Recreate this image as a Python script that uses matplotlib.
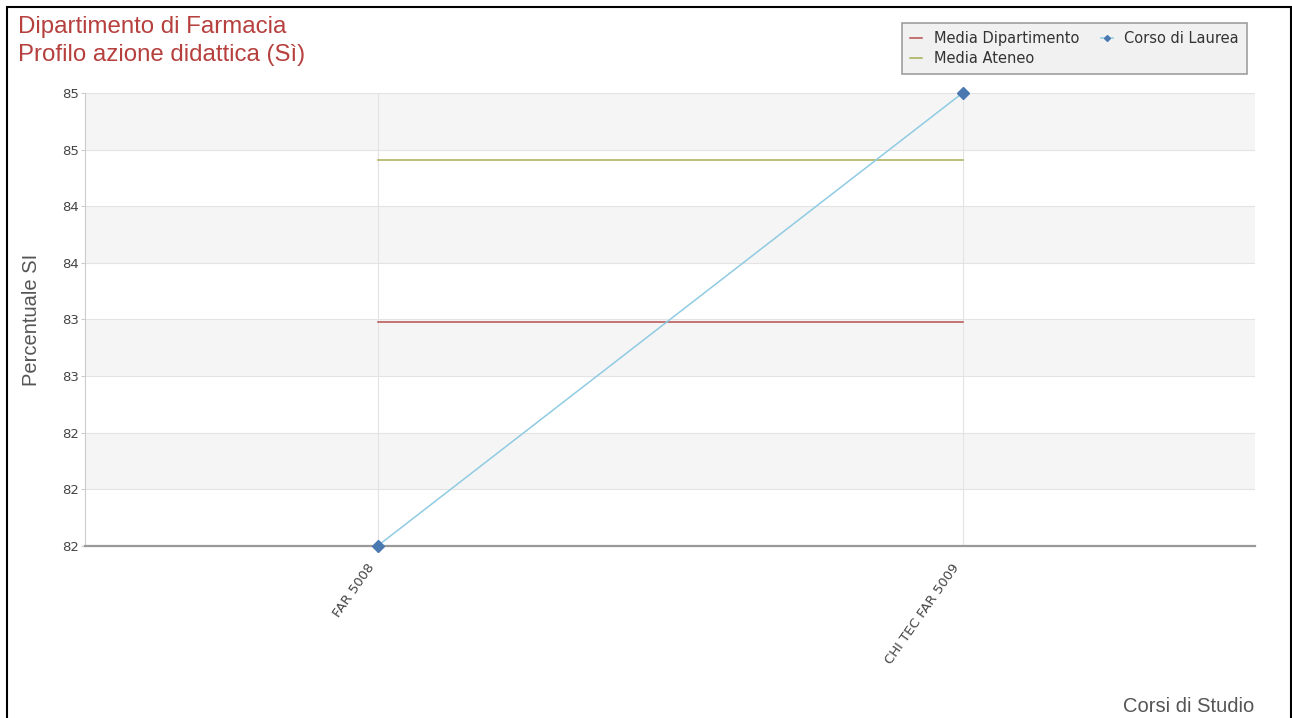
import matplotlib
matplotlib.use("Agg")
import matplotlib.pyplot as plt
import matplotlib.transforms as mtransforms
from matplotlib.patches import Rectangle
from matplotlib.ticker import FormatStrFormatter
import numpy as np

# data
courses = ["FAR 5008", "CHI TEC FAR 5009"]
corso_laurea = [81.55, 85.15]
media_dipartimento = [83.33, 83.33]
media_ateneo = [84.62, 84.62]
y_ticks = [81.55, 82.0, 82.45, 82.9, 83.35, 83.8, 84.25, 84.7, 85.15]

title_color = "#b5403e"
text_grey = "#555555"

fig = plt.figure(figsize=(12.92, 7.18), dpi=100)
ax = fig.add_axes([0.0658, 0.2396, 0.9056, 0.6309])

x = np.arange(len(courses))

# alternating horizontal bands
for i in range(len(y_ticks) - 1):
    if i % 2 == 1:
        ax.axhspan(y_ticks[i], y_ticks[i + 1], color="#f5f5f5", zorder=0, lw=0)
for yv in y_ticks[1:]:
    ax.axhline(yv, color="#e3e3e3", lw=0.8, zorder=1)
for xv in x:
    ax.axvline(xv, color="#e3e3e3", lw=0.8, zorder=1)

ax.plot(x, media_dipartimento, color="#b5504f", lw=1.1, label="Media Dipartimento", zorder=3)
ax.plot(x, media_ateneo, color="#a9ad52", lw=1.1, label="Media Ateneo", zorder=3)
ax.plot(x, corso_laurea, color="#8fcbe3", lw=1.1, marker="D", markersize=6,
        markerfacecolor="#4a78b0", markeredgecolor="#4a78b0", label="Corso di Laurea",
        zorder=4, clip_on=False)

ax.set_xlim(-0.5, 1.5)
ax.set_ylim(y_ticks[0], y_ticks[-1])
ax.set_yticks(y_ticks)
ax.yaxis.set_major_formatter(FormatStrFormatter("%.0f"))
ax.tick_params(axis="y", labelsize=9.5, labelcolor="#444444", length=3, color="#cccccc", pad=1.5)
ax.tick_params(axis="x", length=0, pad=11)
ax.set_xticks(x)
ax.set_xticklabels(courses, rotation=55, ha="right", va="top", rotation_mode="anchor",
                   fontsize=9.5, color="#444444", family="DejaVu Sans")
# nudge the rotated labels a bit to the left, like the original
shift = mtransforms.ScaledTranslation(-0.11, 0, fig.dpi_scale_trans)
for lbl in ax.get_xticklabels():
    lbl.set_transform(lbl.get_transform() + shift)
for lbl in ax.get_yticklabels():
    lbl.set_family("DejaVu Sans")

for s in ["top", "right"]:
    ax.spines[s].set_visible(False)
ax.spines["left"].set_color("#cccccc")
ax.spines["bottom"].set_color("#999999")
ax.spines["bottom"].set_linewidth(1.6)

ax.set_ylabel("Percentuale SI", family="Liberation Sans", fontsize=14.5, color=text_grey)
ax.yaxis.set_label_coords(-0.0376, 0.5)
fig.text(0.971, 0.008, "Corsi di Studio", family="Liberation Sans", fontsize=14.5,
         color=text_grey, ha="right", va="baseline")

fig.text(0.014, 0.978, "Dipartimento di Farmacia\nProfilo azione didattica (Sì)",
         family="Liberation Sans", fontsize=17.3, color=title_color, ha="left", va="top",
         linespacing=1.35)

leg = ax.legend(ncol=2, loc="upper right", bbox_to_anchor=(0.9652, 0.968),
                bbox_transform=fig.transFigure, prop={"family": "DejaVu Sans", "size": 10.5},
                frameon=True, fancybox=False, borderaxespad=0,
                handlelength=0.8, handletextpad=0.8, columnspacing=1.5, borderpad=0.55,
                labelspacing=0.35, markerscale=0.5)
leg.get_frame().set_facecolor("#eeeeee")
leg.get_frame().set_edgecolor("#888888")
leg.get_frame().set_linewidth(1.2)
for t in leg.get_texts():
    t.set_color("#333333")

# outer black frame
fig.patches.append(Rectangle((0.0055, -0.01), 0.9935, 1.0, transform=fig.transFigure,
                             fill=False, edgecolor="black", lw=1.5))

fig.savefig("out.png", dpi=100)
